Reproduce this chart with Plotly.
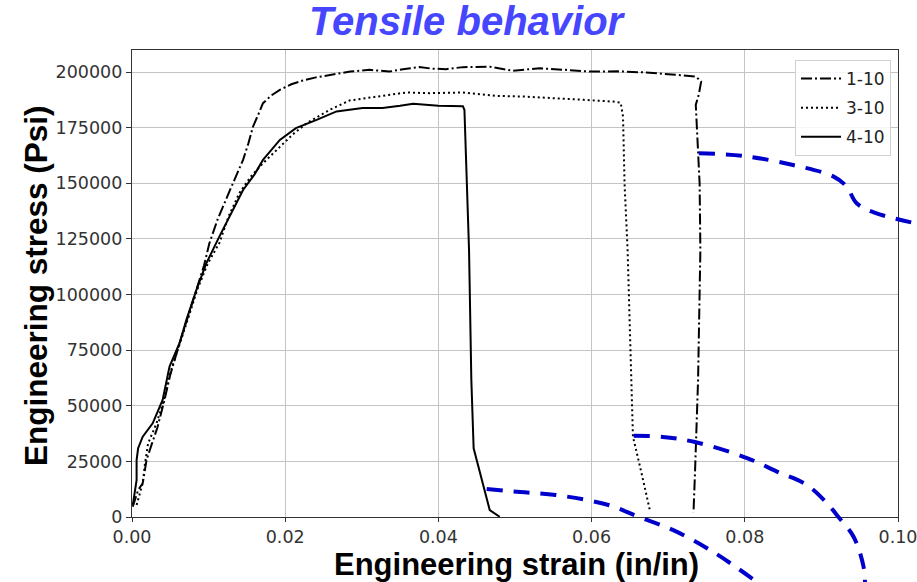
import plotly.graph_objects as go

# ---------------- data ----------------
strain_1_10 = [0.0001, 0.0008, 0.0014, 0.0017, 0.0019, 0.0026, 0.0033, 0.0042, 0.0050, 0.0062,
               0.0072, 0.0084, 0.0094, 0.0101, 0.0112, 0.0128, 0.0145, 0.0152, 0.0158, 0.0165,
               0.0171, 0.0182, 0.0193, 0.0208, 0.0223, 0.0240, 0.0258, 0.0285, 0.0310, 0.0336,
               0.0356, 0.0375, 0.0392, 0.0410, 0.0432, 0.0449, 0.0467, 0.0497, 0.0532, 0.0565,
               0.0597, 0.0635, 0.0671, 0.0700, 0.0722, 0.0736, 0.0743, 0.0740, 0.0736, 0.0738,
               0.0740, 0.0741, 0.0742, 0.0739, 0.0735, 0.0733]
stress_1_10 = [4600, 12100, 15200, 21100, 25600, 33000, 40000, 52000, 64000, 78000,
               89000, 102000, 113000, 123000, 134000, 147000, 160500, 168000, 175500, 181000,
               186000, 189500, 192000, 194500, 196200, 197600, 198700, 200200, 201000, 200200,
               201400, 202200, 201500, 201300, 202200, 202200, 202400, 200600, 201700, 201000,
               200200, 200300, 199800, 199000, 198200, 198000, 195700, 190000, 185200, 172500,
               160000, 150000, 120000, 61600, 20000, 2000]

strain_3_10 = [0.0006, 0.0010, 0.0014, 0.0017, 0.0021, 0.0032, 0.0042, 0.0051, 0.0063, 0.0073,
               0.0085, 0.0099, 0.0114, 0.0126, 0.0140, 0.0155, 0.0171, 0.0193, 0.0210, 0.0228,
               0.0258, 0.0284, 0.0323, 0.0358, 0.0388, 0.0432, 0.0449, 0.0475, 0.0510, 0.0541,
               0.0590, 0.0628, 0.0638, 0.0641, 0.0643, 0.0647, 0.0652, 0.0654, 0.0665, 0.0676]
stress_3_10 = [5400, 10000, 15200, 24100, 33100, 42100, 53000, 66000, 78000, 89000,
               102000, 114000, 123100, 135000, 145500, 153000, 159000, 166500, 172000, 177000,
               183000, 187200, 189000, 190800, 190500, 190800, 190200, 189300, 189000, 188300,
               187500, 186700, 186200, 180000, 150000, 120000, 61600, 36100, 20000, 3100]

strain_4_10 = [0.0001, 0.0004, 0.0006, 0.0006, 0.0008, 0.0014, 0.0027, 0.0040, 0.0049, 0.0062,
               0.0071, 0.0084, 0.0097, 0.0114, 0.0130, 0.0145, 0.0160, 0.0171, 0.0193, 0.0214,
               0.0241, 0.0267, 0.0301, 0.0327, 0.0350, 0.0367, 0.0400, 0.0432, 0.0434, 0.0440,
               0.0443, 0.0446, 0.0467, 0.0480]
stress_4_10 = [5400, 11400, 16600, 25600, 30900, 36100, 42100, 52600, 67600, 78100,
               88600, 102000, 114000, 126000, 137000, 147000, 154000, 160500, 169500, 174800,
               178500, 182300, 183800, 183800, 184800, 185700, 184800, 184600, 183000, 120000,
               61600, 30900, 3100, 100]

# blue dashed overlay curves (strain, stress), partly beyond the axes
arcA_strain = [0.0740, 0.0798, 0.0863, 0.0916, 0.0933, 0.0946, 0.0972, 0.1030]
arcA_stress = [163500, 162300, 158200, 153000, 148500, 141000, 136500, 131500]
arcB_strain = [0.0655, 0.0693, 0.0735, 0.0803, 0.0842, 0.0881, 0.0907, 0.0922, 0.0942, 0.0955, 0.0957]
arcB_stress = [36500, 36000, 33700, 26500, 20400, 14400, 6300, 100, -8900, -22300, -31000]
arcC_strain = [0.0463, 0.0507, 0.0553, 0.0622, 0.0661, 0.0706, 0.0761, 0.0823]
arcC_stress = [12600, 11200, 9900, 5400, 100, -5800, -16200, -31000]

series_names = ["1-10", "3-10", "4-10"]
x_ticks = [0.00, 0.02, 0.04, 0.06, 0.08, 0.10]
x_ticklabels = ["0.00", "0.02", "0.04", "0.06", "0.08", "0.10"]
y_ticks = [0, 25000, 50000, 75000, 100000, 125000, 150000, 175000, 200000]
y_ticklabels = [str(v) for v in y_ticks]

# ---------------- layout geometry ----------------
W, H = 917, 582
L, R, T, B = 132, 898, 50, 517           # plot area in pixels
XR = [0.0, 0.10]
YR = [0.0, 209900.0]

xdom = [L / W, R / W]
ydom = [(H - B) / H, (H - T) / H]
# overlay axes covering the whole figure, aligned to the main axes
xs = (XR[1] - XR[0]) / (R - L)
ys = (YR[1] - YR[0]) / (B - T)
x2r = [XR[0] - L * xs, XR[0] + (W - L) * xs]
y2r = [YR[0] - (H - B) * ys, YR[0] + B * ys]

fig = go.Figure()
styles = [
    dict(dash="11px,3px,2px,3px", width=2),
    dict(dash="2px,3px", width=2),
    dict(dash="solid", width=2),
]
data = [(strain_1_10, stress_1_10), (strain_3_10, stress_3_10), (strain_4_10, stress_4_10)]
for name, (xv, yv), st in zip(series_names, data, styles):
    fig.add_trace(go.Scatter(x=xv, y=yv, mode="lines", name=name, legendgroup=name,
                             line=dict(color="black", **st), xaxis="x", yaxis="y"))

for xv, yv in [(arcA_strain, arcA_stress), (arcB_strain, arcB_stress), (arcC_strain, arcC_stress)]:
    fig.add_trace(go.Scatter(x=xv, y=yv, mode="lines", showlegend=False, hoverinfo="skip",
                             line=dict(color="#0000CC", width=4, dash="16px,11px", shape="spline"),
                             xaxis="x2", yaxis="y2"))

tickfont = dict(family="DejaVu Sans", size=17.5, color="#333333")
fig.update_layout(
    width=W, height=H,
    margin=dict(l=0, r=0, t=0, b=0, autoexpand=False),
    paper_bgcolor="white", plot_bgcolor="rgba(0,0,0,0)",
    xaxis=dict(domain=xdom, range=XR, tickvals=x_ticks, ticktext=x_ticklabels,
               showgrid=True, gridcolor="#c4c4c4", gridwidth=1, zeroline=False,
               showline=True, linecolor="#333333", linewidth=1.2, mirror=True, automargin=False,
               ticklabeloverflow="allow",
               ticks="outside", ticklen=4, tickcolor="#333333", tickfont=tickfont, anchor="y"),
    yaxis=dict(domain=ydom, range=YR, tickvals=y_ticks, ticktext=y_ticklabels,
               showgrid=True, gridcolor="#c4c4c4", gridwidth=1, zeroline=False,
               showline=True, linecolor="#333333", linewidth=1.2, mirror=True, automargin=False,
               ticklabeloverflow="allow",
               ticks="outside", ticklen=5, tickcolor="#333333", tickfont=tickfont, anchor="x"),
    xaxis2=dict(domain=[0, 1], range=x2r, visible=False, anchor="y2", fixedrange=True,
                automargin=False),
    yaxis2=dict(domain=[0, 1], range=y2r, visible=False, anchor="x2", fixedrange=True,
                automargin=False),
    showlegend=True,
    legend=dict(x=891 / W, y=1 - 60 / H, xanchor="right", yanchor="top",
                bgcolor="rgba(255,255,255,0.85)", bordercolor="#d0d0d0", borderwidth=1,
                font=dict(family="DejaVu Sans", size=17, color="#222222"),
                itemwidth=40, tracegroupgap=4),
    annotations=[
        dict(text="<b><i>Tensile behavior</i></b>", xref="paper", yref="paper",
             x=467 / W, y=1 - 21 / H, xanchor="center", yanchor="middle", showarrow=False,
             font=dict(family="Liberation Sans", size=40, color="#4646FF")),
        dict(text="<b>Engineering strain (in/in)</b>", xref="paper", yref="paper",
             x=516 / W, y=1 - 564 / H, xanchor="center", yanchor="middle", showarrow=False,
             font=dict(family="Liberation Sans", size=31, color="black")),
        dict(text="<b>Engineering stress (Psi)</b>", xref="paper", yref="paper",
             x=36 / W, y=1 - 286 / H, xanchor="center", yanchor="middle", showarrow=False,
             textangle=-90,
             font=dict(family="Liberation Sans", size=31.5, color="black")),
    ],
)

fig.write_html("out.html")
